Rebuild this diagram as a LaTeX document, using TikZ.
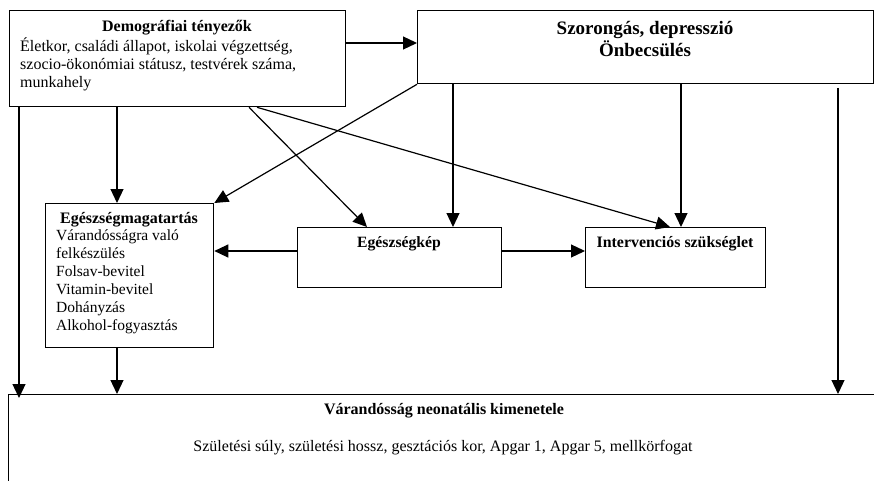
\documentclass[tikz,border=0pt]{standalone}
\usepackage{fontspec}
\setmainfont{Liberation Serif}
\usetikzlibrary{arrows.meta}
\begin{document}
\begin{tikzpicture}[x=1pt,y=-1pt,
  box/.style={draw,line width=1.3pt,rectangle,inner sep=0pt},
  lbl/.style={inner sep=0pt,align=center},
  body/.style={inner sep=0pt,align=left},
  arr/.style={line width=1.2pt,-{Triangle[length=14pt,width=13pt]}}]
\useasboundingbox (0,0) rectangle (874,481);
\begin{scope}
\clip (0,0) rectangle (874,481);
% boxes
\node[box,minimum width=336pt,minimum height=96pt,anchor=north west] (demo) at (9,10) {};
\node[box,minimum width=456pt,minimum height=73pt,anchor=north west] (szor) at (417,10) {};
\node[box,minimum width=168pt,minimum height=144pt,anchor=north west] (egm) at (45,203) {};
\node[box,minimum width=204pt,minimum height=60pt,anchor=north west] (egk) at (297,227) {};
\node[box,minimum width=180pt,minimum height=60pt,anchor=north west] (interv) at (585,227) {};
\node[box,minimum width=900pt,minimum height=120pt,anchor=north west] (bot) at (8,394) {};
\end{scope}
% texts
\node[lbl,font=\fontsize{16}{18}\selectfont\bfseries,anchor=base] (demot) at (177,32) {Demográfiai tényezők};
\node[body,font=\fontsize{16}{17.6}\selectfont,anchor=north west] (demob) at (20,38) {Életkor, családi állapot, iskolai végzettség,\\szocio-ökonómiai státusz, testvérek száma,\\munkahely};
\node[lbl,font=\fontsize{19}{22}\selectfont\bfseries,anchor=north] (szort) at (645,21) {Szorongás, depresszió\\Önbecsülés};
\node[lbl,font=\fontsize{16}{18}\selectfont\bfseries,anchor=base] (egmt) at (129,223) {Egészségmagatartás};
\node[body,font=\fontsize{15.5}{18}\selectfont,anchor=north west] (egmb) at (56,230) {Várandósságra való\\felkészülés\\Folsav-bevitel\\Vitamin-bevitel\\Dohányzás\\Alkohol-fogyasztás};
\node[lbl,font=\fontsize{15.7}{18}\selectfont\bfseries,anchor=base] (egkt) at (399,247) {Egészségkép};
\node[lbl,font=\fontsize{15.9}{18}\selectfont\bfseries,anchor=base] (intt) at (675,247) {Intervenciós szükséglet};
\node[lbl,font=\fontsize{16}{18}\selectfont\bfseries,anchor=base] (bott) at (444,414) {Várandósság neonatális kimenetele};
\node[lbl,font=\fontsize{16}{18}\selectfont,anchor=base] (botb) at (443,451) {Születési súly, születési hossz, gesztációs kor, Apgar 1, Apgar 5, mellkörfogat};
% connectors
\coordinate (rtop) at (838,88);
\draw[arr] (demo.east |- 0,43) -- (szor.west |- 0,43);
\draw[arr] (demo.south -| 19,0) -- (19,398);
\draw[arr] (demo.south -| 117,0) -- (egm.north -| 117,0);
\draw[arr] (demo.south -| 249,0) -- (egk.north -| 367,0);
\draw[arr] (demo.south -| 257,0) -- (interv.north -| 670,0);
\draw[arr] (szor.south west) -- (egm.north east);
\draw[arr] (szor.south -| 453,0) -- (egk.north -| 453,0);
\draw[arr] (szor.south -| 681,0) -- (interv.north -| 681,0);
\draw[arr] (rtop) -- (bot.north -| rtop);
\draw[arr] (egk.west |- 0,251) -- (egm.east |- 0,251);
\draw[arr] (egk.east |- 0,251) -- (interv.west |- 0,251);
\draw[arr] (egm.south -| 117,0) -- (bot.north -| 117,0);
\end{tikzpicture}
\end{document}
